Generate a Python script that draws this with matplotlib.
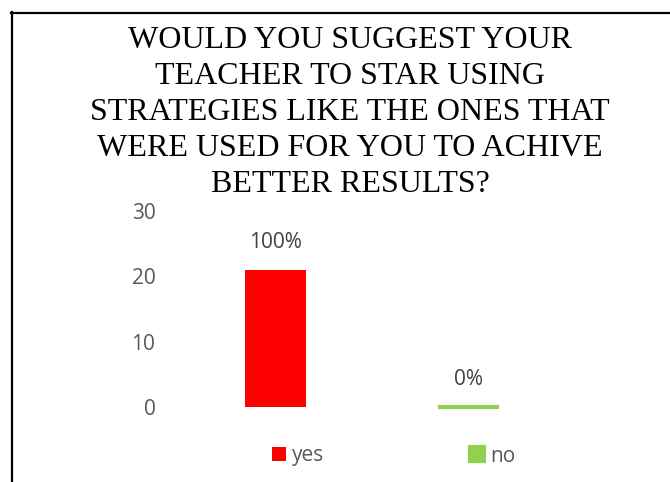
import matplotlib
matplotlib.use("Agg")
import matplotlib.pyplot as plt
from matplotlib.lines import Line2D

# respuestas de la encuesta
categorias = ["yes", "no"]
valores = [21, 0]
etiquetas = ["100%", "0%"]
colores = ["#FF0000", "#92D050"]
ticks_y = [0, 10, 20, 30]

titulo = ("WOULD YOU SUGGEST YOUR\nTEACHER TO STAR USING\n"
          "STRATEGIES LIKE THE ONES THAT\nWERE USED FOR YOU TO ACHIVE\n"
          "BETTER RESULTS?")

W, H = 670, 482
fig = plt.figure(figsize=(W / 100, H / 100), dpi=100)
fig.patch.set_facecolor("white")

# marco del grafico
fig.add_artist(Line2D([11.5 / W, 11.5 / W], [0, 1 - 12 / H], color="black",
                      lw=1.6, transform=fig.transFigure))
fig.add_artist(Line2D([11 / W, 1], [1 - 12.5 / H, 1 - 12.5 / H], color="black",
                      lw=1.6, transform=fig.transFigure))

fig.text(350 / W, 1 - 25.5 / H, titulo, ha="center", va="top",
         fontsize=23, family="Liberation Serif", color="black", linespacing=1.32)

ax = fig.add_axes([179 / W, 1 - 407 / H, (565 - 179) / W, (407 - 211) / H])
x = list(range(len(categorias)))
barras = []
for i in x:
    b = ax.bar(i, valores[i], width=0.316, color=colores[i], label=categorias[i],
               edgecolor=colores[i], linewidth=3.0 if valores[i] == 0 else 0,
               clip_on=False)
    barras.append(b[0])
    ax.annotate(etiquetas[i], (i, valores[i]), xytext=(0, 12), textcoords="offset points",
                ha="center", va="bottom", fontsize=15, color="#404040",
                family="Open Sans")

ax.set_xlim(-0.5, 1.5)
ax.set_ylim(0, 30)
ax.set_yticks(ticks_y)
ax.set_xticks([])
for s in ax.spines.values():
    s.set_visible(False)
ax.tick_params(axis="y", length=0, pad=17, labelsize=15, labelcolor="#595959")
for t in ax.get_yticklabels():
    t.set_family("Open Sans")

fig.legend(handles=barras, labels=categorias, loc="center", ncol=2,
           bbox_to_anchor=(394 / W, 1 - 456 / H), frameon=False,
           prop={"family": "Open Sans", "size": 15}, labelcolor="#595959",
           handlelength=0.67, handleheight=0.67, handletextpad=0.3,
           columnspacing=7.0)

fig.savefig("out.png", dpi=100)
